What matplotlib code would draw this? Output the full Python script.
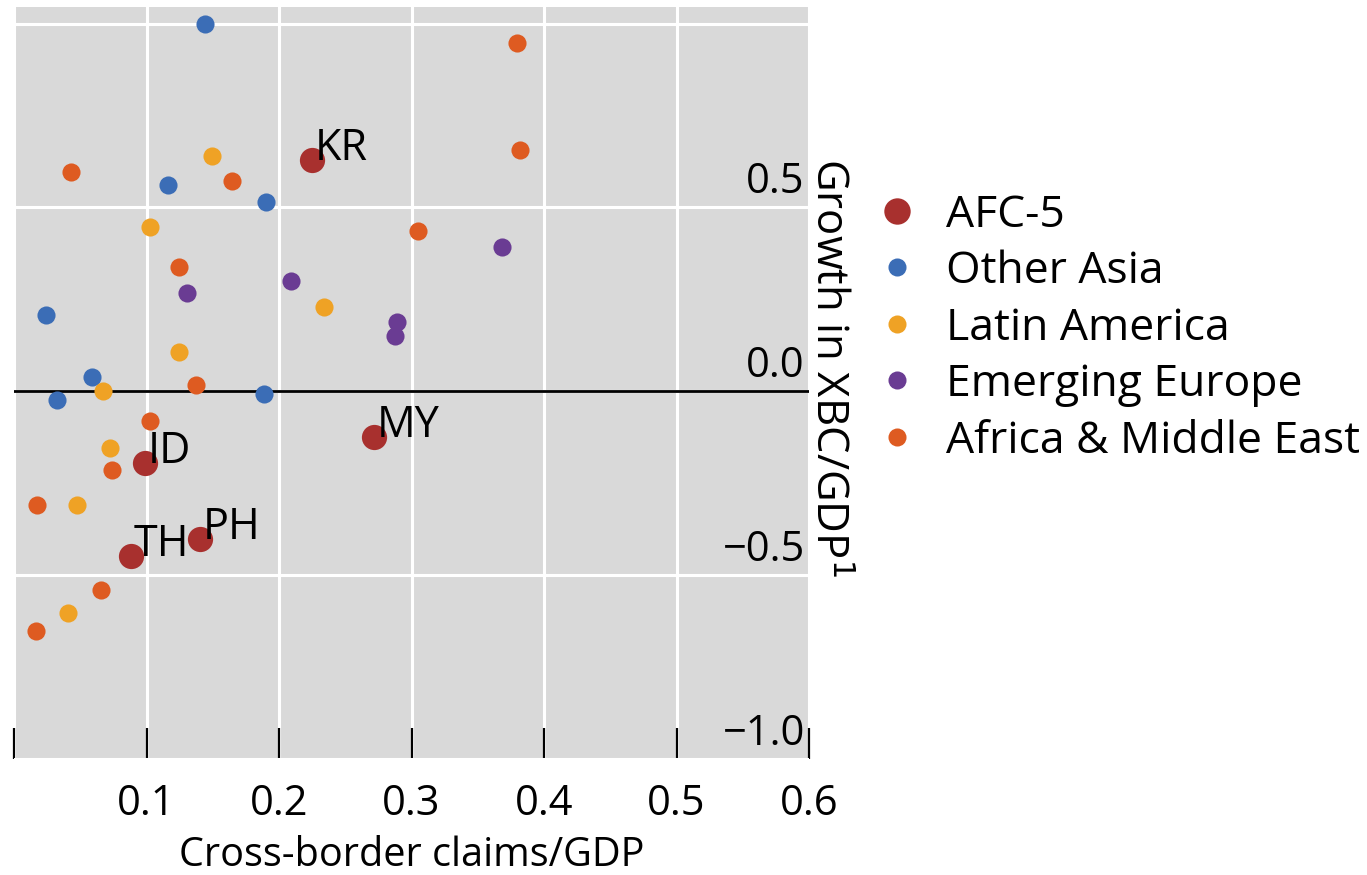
import matplotlib
matplotlib.use("Agg")
import matplotlib.pyplot as plt
import matplotlib.transforms as mtransforms
from matplotlib.lines import Line2D

plt.rcParams['font.family'] = ['Open Sans', 'DejaVu Sans']

# ---- data ----
groups = ["AFC-5", "Other Asia", "Latin America", "Emerging Europe", "Africa & Middle East"]
colors = ["#A8302E", "#3B6DB6", "#EFA225", "#6A3C93", "#DE5B21"]

afc_labels = ["KR", "MY", "ID", "PH", "TH"]
afc_x = [0.225, 0.2715, 0.0992, 0.1402, 0.0881]
afc_y = [0.628, -0.124, -0.196, -0.402, -0.448]

asia_x = [0.1445, 0.1163, 0.190, 0.0245, 0.0585, 0.0325, 0.189]
asia_y = [0.999, 0.560, 0.515, 0.208, 0.040, -0.025, -0.007]

latam_x = [0.1493, 0.1023, 0.2336, 0.1246, 0.0668, 0.0723, 0.0479, 0.0404]
latam_y = [0.641, 0.448, 0.228, 0.108, 0.000, -0.154, -0.308, -0.603]

europe_x = [0.1304, 0.2094, 0.2894, 0.2874, 0.368]
europe_y = [0.267, 0.299, 0.189, 0.151, 0.392]

africa_x = [0.0429, 0.1646, 0.1244, 0.1372, 0.1027, 0.0740, 0.017, 0.066, 0.0165, 0.3795, 0.3817, 0.305]
africa_y = [0.597, 0.573, 0.338, 0.016, -0.082, -0.213, -0.308, -0.541, -0.653, 0.946, 0.655, 0.436]

xticks = [0.0, 0.1, 0.2, 0.3, 0.4, 0.5, 0.6]
xticklabels = ["", "0.1", "0.2", "0.3", "0.4", "0.5", "0.6"]
yticks = [-1.0, -0.5, 0.0, 0.5, 1.0]
yticklabels = ["\u22121.0", "\u22120.5", "0.0", "0.5", ""]

# ---- figure ----
W, H = 1367, 875
fig = plt.figure(figsize=(W / 100, H / 100), dpi=100)
ax = fig.add_axes([14 / W, 1 - 759 / H, (809 - 14) / W, (759 - 7) / H])
ax.set_facecolor("#D9D9D9")
for s in ax.spines.values():
    s.set_visible(False)

ax.set_xlim(0, 0.6)
ax.set_ylim(-1.0, 1.045)

ax.set_xticks(xticks)
ax.set_xticklabels(xticklabels, fontsize=30)
ax.set_yticks(yticks)
ax.set_yticklabels([])
ax.tick_params(axis="x", direction="in", length=22, width=1.6, color="black", pad=17)
ax.tick_params(axis="y", length=0, left=False, labelleft=False)
ax.grid(True, color="white", linewidth=2.2)
ax.set_axisbelow(True)

ax.axhline(0, color="black", linewidth=2, zorder=1.5)

# y tick labels inside plot on right, above gridlines
trans = mtransforms.blended_transform_factory(ax.transAxes, ax.transData)
off = mtransforms.ScaledTranslation(-3 / 72, 3 / 72, fig.dpi_scale_trans)
for v, lab in zip(yticks, yticklabels):
    if lab:
        ax.text(1.0, v, lab, transform=trans + off, ha="right", va="bottom", fontsize=30)

small = 170
big = 330
ax.scatter(asia_x, asia_y, s=small, color=colors[1], zorder=3, linewidths=0)
ax.scatter(latam_x, latam_y, s=small, color=colors[2], zorder=3, linewidths=0)
ax.scatter(europe_x, europe_y, s=small, color=colors[3], zorder=3, linewidths=0)
ax.scatter(africa_x, africa_y, s=small, color=colors[4], zorder=3, linewidths=0)
ax.scatter(afc_x, afc_y, s=big, color=colors[0], zorder=4, linewidths=0)

for lab, x, y in zip(afc_labels, afc_x, afc_y):
    ax.text(x, y, lab, fontsize=31, ha="left", va="baseline", zorder=5,
            transform=ax.transData + mtransforms.ScaledTranslation(2 / 72, 0, fig.dpi_scale_trans))

ax.set_xlabel("Cross-border claims/GDP", fontsize=28.5, labelpad=8)
ax.set_ylabel("Growth in XBC/GDP$^1$", fontsize=31.5)
ax.yaxis.set_label_coords(0.995, 0.52)
ax.yaxis.label.set_rotation(270)
ax.yaxis.label.set_rotation_mode("default")
ax.yaxis.label.set_ha("left")
ax.yaxis.label.set_va("center")

handles = [Line2D([], [], linestyle="none", marker="o", markersize=19 if i == 0 else 13,
                  markerfacecolor=c, markeredgewidth=0) for i, c in enumerate(colors)]
leg = fig.legend(handles, groups, loc="upper left", bbox_to_anchor=(875 / W, 1 - 193 / H),
                 frameon=False, fontsize=32, handletextpad=0.6, labelspacing=0.27,
                 handlelength=1.0, borderpad=0, borderaxespad=0)

fig.savefig("out.png", dpi=100)
